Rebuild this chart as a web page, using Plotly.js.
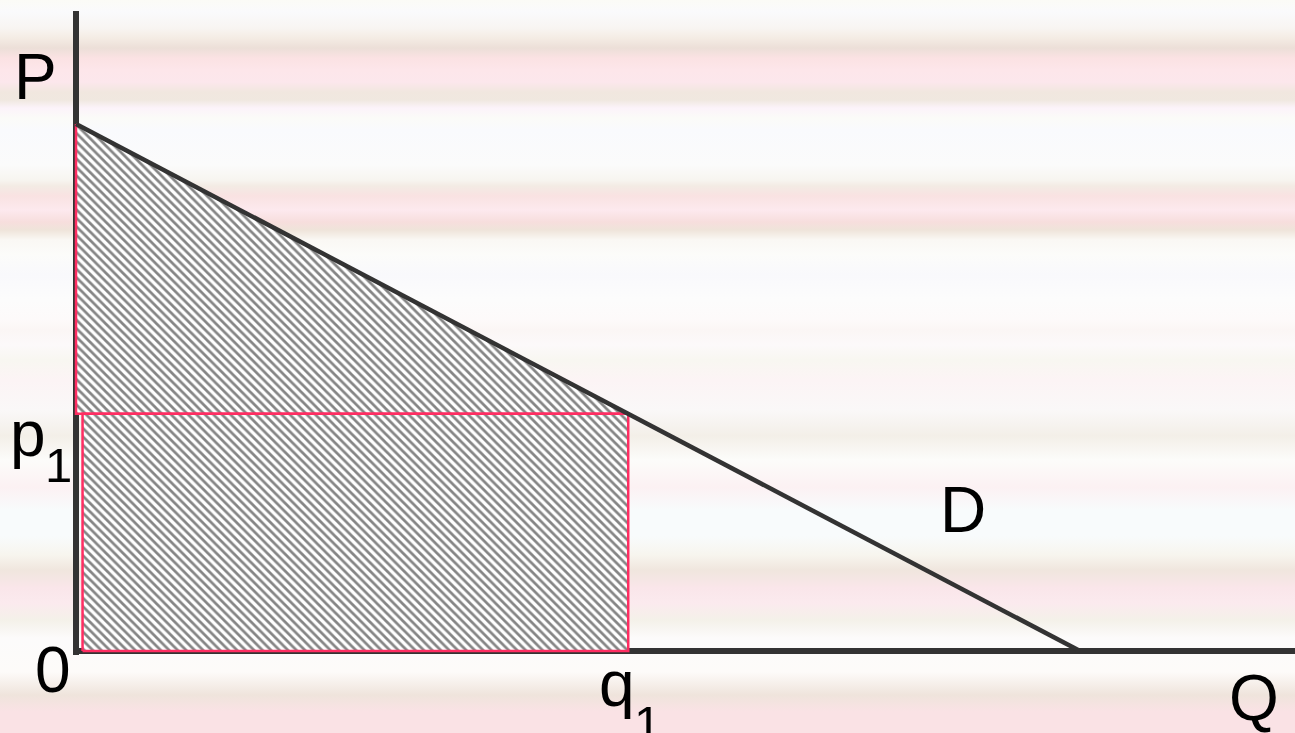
<!DOCTYPE html>
<html>
<head>
<meta charset="utf-8">
<script src="https://cdn.plot.ly/plotly-3.0.1.min.js"></script>
<style>
html, body { margin:0; padding:0; width:1295px; height:733px; overflow:hidden; }
#chart {
  width:1295px; height:733px;
  background: linear-gradient(to bottom,
    #fbfbf6 0px, #fafafc 12px, #f8f5f2 28px, #f4ece4 38px, #ecdfd8 48px,
    #fbe2e3 58px, #fde6ea 70px, #fce7ec 82px, #f1e7df 92px, #f0e8e0 100px,
    #fcf3fa 108px, #fbfbf8 118px, #f9fafd 130px, #fbfbfb 165px, #f7f5f0 180px,
    #f3ebe4 186px, #f9e2e2 196px, #fde9ee 210px, #f7dedd 222px, #efe4da 230px,
    #faf8f4 240px, #fcfcfa 255px, #f9f9fc 275px, #fcfcfc 300px, #fdfafa 320px,
    #fbf6f5 330px, #fcf9fa 345px, #f8f7f1 360px, #fcf4f5 380px, #faf8f8 410px,
    #f3efe8 436px, #fcfcfa 460px, #fcf1f3 487px, #f8fbfc 510px, #f8fbfc 536px,
    #f7f5ee 555px, #f0e6de 570px, #fae6ea 588px, #fbeaee 603px, #f4f1e9 620px,
    #fcfbfb 638px, #fdfbf9 672px, #efe4dc 695px, #fae2e5 712px, #fae2e5 733px);
}
</style>
</head>
<body>
<div id="chart"></div>
<script>
// ---- data ----
var demandQ = [0, 10];      // quantity where demand meets axes
var demandP = [10, 0];      // price intercept, then zero
var q1 = 5.5;               // quantity bought
var p1 = 4.5;               // price paid
var rectLeft = 0.065;       // small gap between axis and revenue rectangle
var axisLabels = ['P', 'Q', '0', 'D'];

// ---- shapes built from data ----
var triX = [0, 0, q1, 0];
var triY = [demandP[0], p1, p1, demandP[0]];
var rectX = [rectLeft, rectLeft, q1, q1, rectLeft];
var rectY = [0, p1, p1, 0, 0];

var hatch = {shape: '\\', size: 6, solidity: 0.45, fgcolor: '#858585', bgcolor: '#ffffff'};
var outline = {color: '#ff2d62', width: 2.5};

var traces = [
  {x: triX, y: triY, type: 'scatter', mode: 'lines', fill: 'toself',
   fillcolor: '#ffffff', fillpattern: hatch, line: outline, hoverinfo: 'skip'},
  {x: rectX, y: rectY, type: 'scatter', mode: 'lines', fill: 'toself',
   fillcolor: '#ffffff', fillpattern: hatch, line: outline, hoverinfo: 'skip'},
  {x: demandQ, y: demandP, type: 'scatter', mode: 'lines',
   line: {color: '#333333', width: 4.5}, hoverinfo: 'skip'}
];

var F = {family: 'Liberation Sans, Arial, sans-serif', size: 64, color: '#000000'};
var Fs = {family: 'Liberation Sans, Arial, sans-serif', size: 49, color: '#000000'};

function ann(o) {
  return Object.assign({showarrow: false, xanchor: 'center', yanchor: 'middle', font: F}, o);
}

var annotations = [
  ann({text: axisLabels[0], xref: 'paper', yref: 'paper', x: 0, y: 0, xshift: -37.5, yshift: 578}),
  ann({text: axisLabels[1], xref: 'paper', yref: 'paper', x: 0, y: 0, xshift: 1180.5, yshift: -43}),
  ann({text: axisLabels[2], xref: 'paper', yref: 'paper', x: 0, y: 0, xshift: -20.5, yshift: -15}),
  ann({text: axisLabels[3], xref: 'paper', yref: 'paper', x: 0, y: 0, xshift: 890, yshift: 145}),
  ann({text: 'p', xref: 'paper', yref: 'y', x: 0, y: p1, xshift: -45, yshift: -20}),
  ann({text: '1', xref: 'paper', yref: 'y', x: 0, y: p1, xshift: -14.7, yshift: -51, font: Fs}),
  ann({text: 'q', xref: 'x', yref: 'paper', x: q1, y: 0, xshift: -11.7, yshift: -29}),
  ann({text: '1', xref: 'x', yref: 'paper', x: q1, y: 0, xshift: 18.8, yshift: -68, font: Fs})
];

var axCommon = {showgrid: false, showticklabels: false, ticks: '', showline: false,
  zeroline: true, zerolinecolor: '#333333', zerolinewidth: 6, fixedrange: true};

var layout = {
  width: 1295, height: 733,
  margin: {l: 73, r: 0, t: 11, b: 78, pad: 0},
  paper_bgcolor: 'rgba(0,0,0,0)',
  plot_bgcolor: 'rgba(0,0,0,0)',
  showlegend: false,
  xaxis: Object.assign({range: [-0.030, 12.141]}, axCommon),
  yaxis: Object.assign({range: [-0.076, 12.144]}, axCommon),
  annotations: annotations
};

Plotly.newPlot('chart', traces, layout, {displayModeBar: false, staticPlot: true});
</script>
</body>
</html>
